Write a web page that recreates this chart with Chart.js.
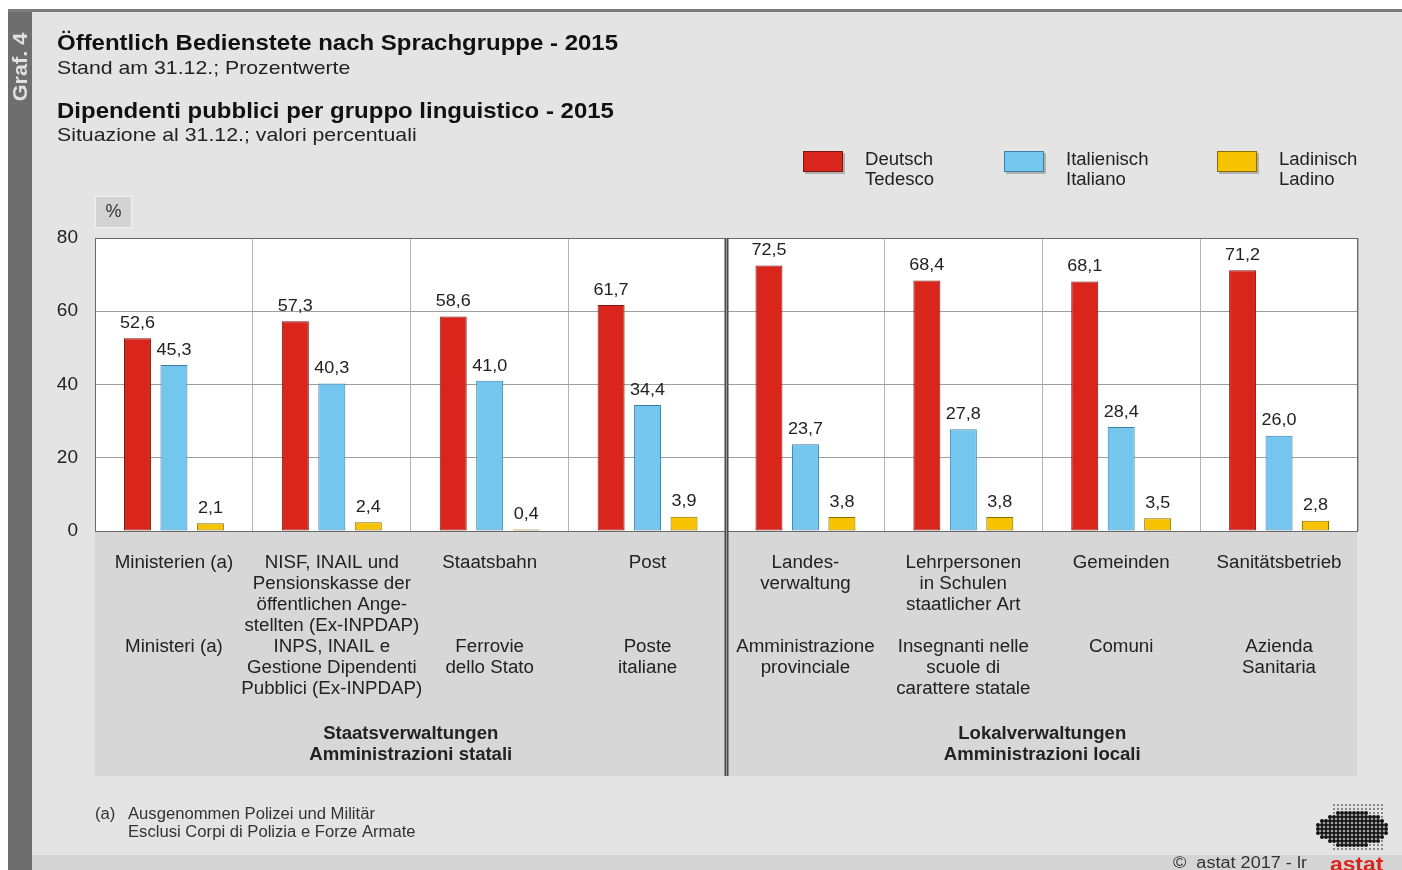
<!DOCTYPE html>
<html>
<head>
<meta charset="utf-8">
<script src="https://cdn.jsdelivr.net/npm/chart.js@4"></script>
<style>
  html, body { margin: 0; padding: 0; background: #fff; }
  #grafico { position: absolute; left: 0; top: 0; }
</style>
</head>
<body>
<canvas id="grafico" width="1402" height="870"></canvas>
<script>
const categorie = ['Ministerien (a)', 'NISF, INAIL', 'Staatsbahn', 'Post', 'Landesverwaltung', 'Lehrpersonen', 'Gemeinden', 'Sanitätsbetrieb'];
const etichetteDe = [
  ['Ministerien (a)'],
  ['NISF, INAIL und', 'Pensionskasse der', 'öffentlichen Ange-', 'stellten (Ex-INPDAP)'],
  ['Staatsbahn'],
  ['Post'],
  ['Landes-', 'verwaltung'],
  ['Lehrpersonen', 'in Schulen', 'staatlicher Art'],
  ['Gemeinden'],
  ['Sanitätsbetrieb']
];
const etichetteIt = [
  ['Ministeri (a)'],
  ['INPS, INAIL e', 'Gestione Dipendenti', 'Pubblici (Ex-INPDAP)'],
  ['Ferrovie', 'dello Stato'],
  ['Poste', 'italiane'],
  ['Amministrazione', 'provinciale'],
  ['Insegnanti nelle', 'scuole di', 'carattere statale'],
  ['Comuni'],
  ['Azienda', 'Sanitaria']
];
const deutsch = [52.6, 57.3, 58.6, 61.7, 72.5, 68.4, 68.1, 71.2];
const italienisch = [45.3, 40.3, 41.0, 34.4, 23.7, 27.8, 28.4, 26.0];
const ladinisch = [2.1, 2.4, 0.4, 3.9, 3.8, 3.8, 3.5, 2.8];
const yTicks = [0, 20, 40, 60, 80];

const FONT = '"Liberation Sans", Arial, sans-serif';
const graficoEl = document.getElementById('grafico');

// il testo del riferimento e' un po' piu' largo: sx allarga in orizzontale
function testo(ctx, t, x, y, size, opts = {}) {
  ctx.save();
  ctx.font = (opts.bold ? 'bold ' : '') + size + 'px ' + FONT;
  ctx.fillStyle = opts.color || '#222';
  ctx.textAlign = opts.align || 'left';
  ctx.textBaseline = 'middle';
  ctx.translate(x, y + 1);
  ctx.scale(opts.sx || 1, 1);
  ctx.fillText(t, 0, 0);
  ctx.restore();
}

// sfondo, titoli, legenda
const sfondo = {
  id: 'sfondo',
  beforeDraw(chart) {
    const ctx = chart.ctx;
    const a = chart.chartArea;
    ctx.save();
    ctx.fillStyle = '#ffffff';
    ctx.fillRect(0, 0, 1402, 870);
    ctx.fillStyle = '#e4e4e4';
    ctx.fillRect(32, 11, 1370, 859);
    ctx.fillStyle = '#d5d5d5';
    ctx.fillRect(32, 855, 1370, 15);
    ctx.fillStyle = '#6e6e6e';
    ctx.fillRect(8, 11, 24, 859);
    ctx.fillStyle = '#7c7c7c';
    ctx.fillRect(8, 9, 1394, 3);

    // Graf. 4
    ctx.save();
    ctx.translate(20, 67);
    ctx.rotate(-Math.PI / 2);
    testo(ctx, 'Graf. 4', 0, 0, 20, { bold: true, color: '#e0e0e0', align: 'center', sx: 1.08 });
    ctx.restore();

    testo(ctx, 'Öffentlich Bedienstete nach Sprachgruppe - 2015', 57, 43, 22, { bold: true, color: '#111', sx: 1.09 });
    testo(ctx, 'Stand am 31.12.; Prozentwerte', 57, 68, 19, { color: '#222', sx: 1.12 });
    testo(ctx, 'Dipendenti pubblici per gruppo linguistico - 2015', 57, 111, 22, { bold: true, color: '#111', sx: 1.09 });
    testo(ctx, 'Situazione al 31.12.; valori percentuali', 57, 135, 19, { color: '#222', sx: 1.12 });

    // legenda
    const voci = [
      { x: 803, c: '#d9251c', b: '#7a1a14', t: ['Deutsch', 'Tedesco'] },
      { x: 1004, c: '#74c6ef', b: '#3b7ea6', t: ['Italienisch', 'Italiano'] },
      { x: 1217, c: '#f7c300', b: '#8a6d00', t: ['Ladinisch', 'Ladino'] }
    ];
    voci.forEach(v => {
      ctx.fillStyle = '#b0b0b0';
      ctx.fillRect(v.x + 2, 153, 40, 21);
      ctx.fillStyle = v.c;
      ctx.fillRect(v.x, 151, 40, 21);
      ctx.strokeStyle = v.b;
      ctx.lineWidth = 1;
      ctx.strokeRect(v.x + 0.5, 151.5, 39, 20);
      testo(ctx, v.t[0], v.x + 62, 159, 18, { color: '#222', sx: 1.03 });
      testo(ctx, v.t[1], v.x + 62, 179, 18, { color: '#222', sx: 1.03 });
    });

    // riquadro %
    ctx.fillStyle = '#d3d3d3';
    ctx.fillRect(95, 196, 37, 32);
    ctx.strokeStyle = '#f2f2f2';
    ctx.strokeRect(95.5, 196.5, 36, 31);
    testo(ctx, '%', 113.5, 211, 18, { color: '#333', align: 'center' });

    // area del grafico bianca
    ctx.fillStyle = '#ffffff';
    ctx.fillRect(a.left, a.top, a.right - a.left, a.bottom - a.top);
    ctx.restore();
  }
};

// etichette, separatore, note
const decorazioni = {
  id: 'decorazioni',
  afterDatasetsDraw(chart) {
    const ctx = chart.ctx;
    chart.data.datasets.forEach((ds, i) => {
      chart.getDatasetMeta(i).data.forEach((bar, j) => {
        testo(ctx, ds.data[j].toFixed(1).replace('.', ','), bar.x, bar.y - 16, 17, { color: '#222', align: 'center', sx: 1.06 });
      });
    });
  },
  afterDraw(chart) {
    const ctx = chart.ctx;
    const a = chart.chartArea;
    const xs = chart.scales.x;
    ctx.save();

    ctx.strokeStyle = '#6a6a6a';
    ctx.lineWidth = 1;
    ctx.strokeRect(a.left + 0.5, a.top + 0.5, a.right - a.left - 1, a.bottom - a.top);

    // area etichette
    ctx.fillStyle = '#d7d7d7';
    ctx.fillRect(a.left, a.bottom + 1, a.right - a.left - 1, 776 - a.bottom - 1);

    categorie.forEach((c, i) => {
      const x = xs.getPixelForValue(i);
      etichetteDe[i].forEach((r, k) => testo(ctx, r, x, 562 + k * 21, 18, { color: '#222', align: 'center', sx: 1.04 }));
      etichetteIt[i].forEach((r, k) => testo(ctx, r, x, 646 + k * 21, 18, { color: '#222', align: 'center', sx: 1.04 }));
    });

    const mid = (xs.getPixelForValue(3) + xs.getPixelForValue(4)) / 2;
    const gruppo = { bold: true, color: '#222', align: 'center', sx: 1.03 };
    testo(ctx, 'Staatsverwaltungen', (a.left + mid) / 2, 733, 18, gruppo);
    testo(ctx, 'Amministrazioni statali', (a.left + mid) / 2, 754, 18, gruppo);
    testo(ctx, 'Lokalverwaltungen', (mid + a.right) / 2, 733, 18, gruppo);
    testo(ctx, 'Amministrazioni locali', (mid + a.right) / 2, 754, 18, gruppo);

    // doppia linea di separazione
    ctx.fillStyle = '#4a4a4a';
    ctx.fillRect(mid - 2, a.top, 4, 776 - a.top);
    ctx.fillStyle = '#9a9a9a';
    ctx.fillRect(mid - 0.5, a.top, 1, 776 - a.top);

    // note
    testo(ctx, '(a)', 95, 814, 16, { color: '#333', sx: 1.04 });
    testo(ctx, 'Ausgenommen Polizei und Militär', 128, 814, 16, { color: '#333', sx: 1.04 });
    testo(ctx, 'Esclusi Corpi di Polizia e Forze Armate', 128, 832, 16, { color: '#333', sx: 1.04 });
    testo(ctx, '©  astat 2017 - lr', 1173, 863, 16, { color: '#333', sx: 1.13 });
    testo(ctx, 'astat', 1330, 864, 20, { bold: true, color: '#d9251c', sx: 1.14 });

    // logo a punti
    ctx.fillStyle = '#111';
    for (let gx = 1318; gx <= 1388; gx += 4) {
      for (let gy = 805; gy <= 851; gy += 4) {
        const dx = (gx - 1353) / 36, dy = (gy - 829) / 18;
        const dentro = dx * dx + dy * dy < 1 && gy < 847;
        if (!dentro && (gx < 1333 || gx > 1383)) continue;
        ctx.beginPath();
        ctx.arc(gx, gy, dentro ? 2 : 0.8, 0, Math.PI * 2);
        ctx.fill();
      }
    }
    ctx.restore();
  }
};

new Chart(graficoEl, {
  type: 'bar',
  data: {
    labels: categorie,
    datasets: [
      { label: 'Deutsch', data: deutsch, backgroundColor: '#d9251c', borderColor: '#7a1a14' },
      { label: 'Italienisch', data: italienisch, backgroundColor: '#74c6ef', borderColor: '#3b7ea6' },
      { label: 'Ladinisch', data: ladinisch, backgroundColor: '#f7c300', borderColor: '#8a6d00' }
    ]
  },
  options: {
    responsive: false,
    animation: false,
    devicePixelRatio: 1,
    layout: { padding: { top: 238, right: 44, left: 0, bottom: 0 } },
    datasets: { bar: { categoryPercentage: 0.693, barPercentage: 0.74, borderWidth: 1, borderSkipped: false } },
    plugins: { legend: { display: false }, tooltip: { enabled: false } },
    scales: {
      x: {
        grid: { color: '#b4b4b4', drawTicks: false, offset: true },
        border: { display: false },
        ticks: { display: false },
        afterFit(s) { s.height = 870 - 531; }
      },
      y: {
        min: 0,
        max: 80,
        afterBuildTicks(s) { s.ticks = yTicks.map(v => ({ value: v })); },
        ticks: { font: { family: FONT, size: 19 }, color: '#222', padding: 17 },
        grid: { color: '#9e9e9e', drawTicks: false },
        border: { display: false },
        afterFit(s) { s.width = 95; }
      }
    }
  },
  plugins: [sfondo, decorazioni]
});
</script>
</body>
</html>
